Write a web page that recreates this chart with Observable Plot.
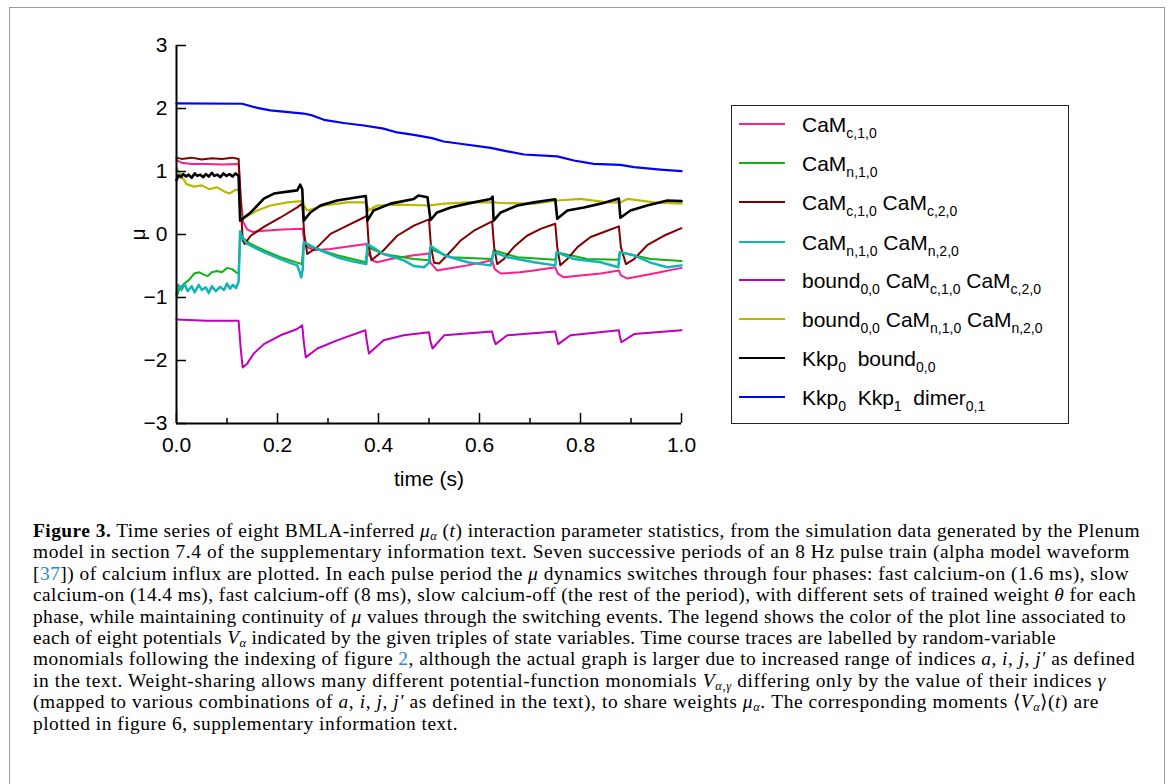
<!DOCTYPE html>
<html>
<head>
<meta charset="utf-8">
<script src="https://cdn.jsdelivr.net/npm/d3@7"></script>
<script src="https://cdn.jsdelivr.net/npm/@observablehq/plot@0.6"></script>
<style>
  html, body { margin: 0; padding: 0; background: #fff; }
  body { width: 1171px; height: 784px; overflow: hidden; position: relative; }
  #frame { position: absolute; left: 9px; top: 7px; width: 1156px; height: 800px; border: 1.5px solid #9a9a9a; box-sizing: border-box; }
  #chart { position: absolute; left: 0; top: 0; }
  #legend { position: absolute; left: 731px; top: 105px; width: 338px; height: 319px; border: 1.5px solid #222; box-sizing: border-box;
            font-family: "Liberation Sans", Arial, sans-serif; font-size: 21px; color: #000; }
  .sw { position: absolute; left: 7px; width: 46px; height: 2px; }
  .lab { position: absolute; left: 70px; white-space: nowrap; line-height: 21px; }
  .lab sub { font-size: 14px; vertical-align: -6px; line-height: 0; }
  #caption { position: absolute; left: 33px; top: 520px; font-family: "Liberation Serif", "Times New Roman", serif; font-size: 19.4px; line-height: 21.4px; color: #000; }
  #caption div { white-space: nowrap; display: block; width: max-content; }
  #caption sub { font-size: 12.5px; vertical-align: -3px; line-height: 0; }
  #caption .ref { color: #2a88c6; }
</style>
</head>
<body>
<div id="frame"></div>
<div id="chart"></div>
<div id="legend"></div>
<div id="caption"></div>
<script>
// ---------- data (t in s, mu) ----------
const camC10 = [[0,1.18],[0.01,1.14],[0.03,1.12],[0.06,1.12],[0.09,1.11],[0.123,1.12],[0.127,0.6],[0.132,0.2],[0.14,0.08],[0.15,0.04],[0.173,0.06],[0.21,0.08],[0.25,0.09],[0.253,-0.1],[0.259,-0.2],[0.272,-0.25],[0.305,-0.23],[0.34,-0.19],[0.376,-0.15],[0.379,-0.3],[0.39,-0.42],[0.397,-0.44],[0.424,-0.39],[0.47,-0.33],[0.5,-0.3],[0.503,-0.45],[0.516,-0.57],[0.545,-0.53],[0.576,-0.49],[0.625,-0.41],[0.63,-0.55],[0.642,-0.62],[0.68,-0.6],[0.708,-0.57],[0.75,-0.52],[0.755,-0.62],[0.767,-0.68],[0.8,-0.65],[0.84,-0.62],[0.876,-0.57],[0.88,-0.65],[0.893,-0.7],[0.945,-0.62],[1.0,-0.53]];
const camN10 = [[0,-1.0],[0.005,-0.88],[0.015,-0.78],[0.025,-0.72],[0.035,-0.62],[0.045,-0.6],[0.055,-0.64],[0.062,-0.66],[0.07,-0.6],[0.08,-0.58],[0.09,-0.6],[0.1,-0.53],[0.11,-0.55],[0.118,-0.6],[0.123,-0.62],[0.126,0.0],[0.13,-0.05],[0.147,-0.15],[0.173,-0.25],[0.206,-0.36],[0.248,-0.47],[0.252,-0.15],[0.279,-0.23],[0.318,-0.33],[0.375,-0.44],[0.378,-0.2],[0.41,-0.31],[0.47,-0.39],[0.5,-0.41],[0.503,-0.23],[0.543,-0.36],[0.625,-0.39],[0.628,-0.25],[0.675,-0.36],[0.75,-0.4],[0.753,-0.28],[0.813,-0.39],[0.875,-0.4],[0.878,-0.28],[0.939,-0.39],[1.0,-0.42]];
const camC10C20 = [[0,1.22],[0.01,1.2],[0.03,1.22],[0.05,1.19],[0.07,1.21],[0.09,1.2],[0.11,1.22],[0.123,1.2],[0.128,0.4],[0.131,-0.1],[0.135,-0.15],[0.147,-0.02],[0.173,0.12],[0.206,0.27],[0.239,0.43],[0.249,0.49],[0.253,0.0],[0.259,-0.31],[0.279,-0.2],[0.305,0.01],[0.338,0.14],[0.371,0.27],[0.377,0.3],[0.381,-0.2],[0.386,-0.41],[0.41,-0.25],[0.437,-0.02],[0.47,0.14],[0.5,0.24],[0.504,-0.2],[0.51,-0.45],[0.52,-0.46],[0.536,-0.33],[0.562,-0.1],[0.589,0.06],[0.625,0.21],[0.629,-0.2],[0.635,-0.47],[0.648,-0.39],[0.668,-0.2],[0.694,-0.02],[0.721,0.09],[0.75,0.17],[0.754,-0.2],[0.76,-0.49],[0.774,-0.39],[0.794,-0.2],[0.82,-0.04],[0.853,0.06],[0.876,0.13],[0.88,-0.2],[0.89,-0.47],[0.906,-0.39],[0.932,-0.17],[0.965,-0.02],[1.0,0.1]];
const camN10N20 = [[0,-0.95],[0.004,-0.8],[0.01,-0.88],[0.016,-0.78],[0.022,-0.9],[0.03,-0.82],[0.036,-0.92],[0.044,-0.8],[0.05,-0.88],[0.058,-0.84],[0.064,-0.93],[0.07,-0.82],[0.078,-0.9],[0.086,-0.83],[0.094,-0.88],[0.1,-0.78],[0.106,-0.86],[0.112,-0.8],[0.118,-0.85],[0.123,-0.75],[0.126,0.05],[0.13,-0.05],[0.14,-0.15],[0.173,-0.28],[0.206,-0.39],[0.225,-0.45],[0.239,-0.49],[0.244,-0.6],[0.247,-0.68],[0.25,-0.55],[0.252,-0.12],[0.279,-0.23],[0.318,-0.36],[0.35,-0.43],[0.376,-0.47],[0.378,-0.15],[0.41,-0.31],[0.45,-0.41],[0.47,-0.5],[0.49,-0.52],[0.5,-0.45],[0.503,-0.18],[0.53,-0.33],[0.576,-0.44],[0.622,-0.49],[0.628,-0.28],[0.655,-0.36],[0.708,-0.44],[0.75,-0.49],[0.753,-0.28],[0.787,-0.39],[0.84,-0.44],[0.875,-0.52],[0.878,-0.28],[0.906,-0.33],[0.94,-0.45],[0.972,-0.52],[1.0,-0.49]];
const boundCamC = [[0,-1.35],[0.06,-1.37],[0.123,-1.37],[0.127,-1.8],[0.131,-2.11],[0.14,-2.05],[0.153,-1.89],[0.173,-1.74],[0.206,-1.6],[0.239,-1.5],[0.249,-1.44],[0.252,-1.7],[0.256,-1.95],[0.279,-1.81],[0.318,-1.68],[0.374,-1.52],[0.377,-1.7],[0.381,-1.89],[0.41,-1.68],[0.45,-1.6],[0.5,-1.55],[0.503,-1.7],[0.507,-1.81],[0.53,-1.6],[0.625,-1.54],[0.628,-1.65],[0.632,-1.74],[0.655,-1.6],[0.75,-1.54],[0.753,-1.65],[0.756,-1.74],[0.78,-1.6],[0.876,-1.52],[0.878,-1.62],[0.881,-1.71],[0.906,-1.58],[1.0,-1.52]];
const boundCamN = [[0,1.05],[0.008,0.95],[0.02,0.8],[0.035,0.76],[0.05,0.78],[0.065,0.72],[0.08,0.75],[0.095,0.68],[0.105,0.65],[0.115,0.7],[0.123,0.72],[0.127,0.3],[0.13,0.25],[0.16,0.38],[0.186,0.46],[0.22,0.51],[0.248,0.53],[0.252,0.46],[0.259,0.38],[0.292,0.46],[0.338,0.51],[0.376,0.51],[0.38,0.38],[0.397,0.46],[0.437,0.475],[0.5,0.46],[0.53,0.49],[0.576,0.51],[0.628,0.51],[0.642,0.5],[0.708,0.49],[0.754,0.54],[0.8,0.565],[0.853,0.51],[0.879,0.51],[0.893,0.565],[0.945,0.51],[1.0,0.49]];
const kkpBound = [[0,0.86],[0.004,0.94],[0.009,0.91],[0.013,0.96],[0.019,0.92],[0.024,0.95],[0.03,0.9],[0.036,0.97],[0.041,0.93],[0.047,0.95],[0.053,0.91],[0.058,0.96],[0.064,0.92],[0.07,0.98],[0.075,0.93],[0.081,0.95],[0.087,0.91],[0.093,0.97],[0.099,0.93],[0.105,0.96],[0.111,0.92],[0.117,0.97],[0.123,0.93],[0.126,0.22],[0.147,0.35],[0.173,0.57],[0.193,0.65],[0.22,0.68],[0.239,0.7],[0.245,0.79],[0.249,0.72],[0.252,0.22],[0.265,0.35],[0.285,0.46],[0.318,0.54],[0.358,0.59],[0.375,0.61],[0.378,0.22],[0.39,0.38],[0.424,0.49],[0.47,0.565],[0.479,0.62],[0.497,0.59],[0.503,0.23],[0.516,0.35],[0.543,0.43],[0.576,0.49],[0.622,0.565],[0.626,0.6],[0.628,0.22],[0.642,0.35],[0.675,0.46],[0.708,0.51],[0.75,0.56],[0.754,0.25],[0.774,0.38],[0.807,0.43],[0.84,0.49],[0.876,0.57],[0.879,0.265],[0.899,0.38],[0.932,0.46],[0.972,0.54],[1.0,0.53]];
const kkpDimer = [[0,2.08],[0.13,2.075],[0.16,2.01],[0.186,1.97],[0.252,1.92],[0.269,1.89],[0.292,1.82],[0.331,1.77],[0.371,1.73],[0.41,1.68],[0.437,1.62],[0.47,1.58],[0.506,1.53],[0.529,1.476],[0.562,1.44],[0.622,1.376],[0.655,1.32],[0.688,1.27],[0.754,1.24],[0.787,1.175],[0.826,1.12],[0.879,1.105],[0.906,1.07],[0.958,1.03],[1.0,1.005]];

const xMajorTicks = [0, 0.2, 0.4, 0.6, 0.8, 1.0];
const xMinorTicks = [0.1, 0.3, 0.5, 0.7, 0.9];
const yTicks = [-3, -2, -1, 0, 1, 2, 3];

// legend labels: [main, sub] pairs
const legendLabels = [
  [["CaM","c,1,0"]],
  [["CaM","n,1,0"]],
  [["CaM","c,1,0"],["CaM","c,2,0"]],
  [["CaM","n,1,0"],["CaM","n,2,0"]],
  [["bound","0,0"],["CaM","c,1,0"],["CaM","c,2,0"]],
  [["bound","0,0"],["CaM","n,1,0"],["CaM","n,2,0"]],
  [["Kkp","0"],["bound","0,0"]],
  [["Kkp","0"],["Kkp","1"],["dimer","0,1"]]
];
const seriesData = [camC10, camN10, camC10C20, camN10N20, boundCamC, boundCamN, kkpBound, kkpDimer];
const seriesColors = ["#ff1d8e", "#12b012", "#820000", "#12b4b4", "#bf00bf", "#b8b800", "#000000", "#0000ff"];
const seriesWidths = [2, 2, 2, 2.5, 2, 2.2, 2.6, 2.2];

// ---------- chart ----------
const fmtY = d => (d < 0 ? "\u2212" : "") + Math.abs(d);
const chart = Plot.plot({
  width: 720,
  height: 500,
  marginLeft: 176,
  marginRight: 39,
  marginTop: 45,
  marginBottom: 77,
  style: { fontFamily: "'Liberation Sans', Arial, sans-serif", fontSize: "21px", background: "transparent", color: "#000" },
  x: { domain: [0, 1] },
  y: { domain: [-3, 3] },
  marks: [
    ...seriesData.map((s, i) => Plot.line(s, { x: d => d[0], y: d => d[1], stroke: seriesColors[i], strokeWidth: seriesWidths[i], strokeLinejoin: "round" })),
    Plot.ruleX([0], { stroke: "#000", strokeWidth: 2 }),
    Plot.ruleY([-3], { stroke: "#000", strokeWidth: 2 }),
    Plot.axisX({ ticks: xMajorTicks, tickSize: 0, tickPadding: 14, tickFormat: d3.format(".1f"), label: "time (s)", labelAnchor: "center", labelArrow: "none", labelOffset: 62 }),
    Plot.axisX({ ticks: xMajorTicks, tickSize: -10, stroke: "#000", strokeWidth: 1.5, fill: "none", label: null }),
    Plot.axisX({ ticks: xMinorTicks, tickSize: -5, stroke: "#000", strokeWidth: 1.5, fill: "none", label: null }),
    Plot.axisY({ ticks: yTicks, tickSize: 0, tickPadding: 9, tickFormat: fmtY, label: "μ", labelAnchor: "center", labelArrow: "none", labelOffset: 46 }),
    Plot.axisY({ ticks: yTicks, tickSize: -10, stroke: "#000", strokeWidth: 1.5, fill: "none", label: null })
  ]
});
document.getElementById("chart").appendChild(chart);

// ---------- legend ----------
const legend = document.getElementById("legend");
const rowCenters = [19, 58, 97, 137, 175, 214, 253, 292];
legendLabels.forEach((parts, i) => {
  const sw = document.createElement("div");
  sw.className = "sw";
  sw.style.top = (rowCenters[i] - 2) + "px";
  sw.style.background = seriesColors[i];
  legend.appendChild(sw);
  const lab = document.createElement("div");
  lab.className = "lab";
  lab.style.top = (rowCenters[i] - 11) + "px";
  lab.innerHTML = parts.map(([m, s]) => `${m}<sub>${s}</sub>`).join(i >= 6 ? "&nbsp; " : " ");
  legend.appendChild(lab);
});

// ---------- caption ----------
const captionLines = [
  '<b>Figure 3.</b> Time series of eight BMLA-inferred <i>μ</i><sub><i>α</i></sub> (<i>t</i>) interaction parameter statistics, from the simulation data generated by the Plenum',
  'model in section 7.4 of the supplementary information text. Seven successive periods of an 8 Hz pulse train (alpha model waveform',
  '[<span class="ref">37</span>]) of calcium influx are plotted. In each pulse period the <i>μ</i> dynamics switches through four phases: fast calcium-on (1.6 ms), slow',
  'calcium-on (14.4 ms), fast calcium-off (8 ms), slow calcium-off (the rest of the period), with different sets of trained weight <i>θ</i> for each',
  'phase, while maintaining continuity of <i>μ</i> values through the switching events. The legend shows the color of the plot line associated to',
  'each of eight potentials <i>V</i><sub><i>α</i></sub> indicated by the given triples of state variables. Time course traces are labelled by random-variable',
  'monomials following the indexing of figure <span class="ref">2</span>, although the actual graph is larger due to increased range of indices <i>a</i>, <i>i</i>, <i>j</i>, <i>j′</i> as defined',
  'in the text. Weight-sharing allows many different potential-function monomials <i>V</i><sub><i>α</i>,<i>γ</i></sub> differing only by the value of their indices <i>γ</i>',
  '(mapped to various combinations of <i>a</i>, <i>i</i>, <i>j</i>, <i>j′</i> as defined in the text), to share weights <i>μ</i><sub><i>α</i></sub>. The corresponding moments ⟨<i>V</i><sub><i>α</i></sub>⟩(<i>t</i>) are',
  'plotted in figure 6, supplementary information text.'
];
// approximate right edge of each caption line in the reference (page px)
const captionLineEnds = [1140, 1130, 1129, 1136, 1126, 1056, 1135, 1106, 1099, 458];
const captionLeft = 33;
const cap = document.getElementById("caption");
captionLines.forEach((l, i) => {
  const d = document.createElement("div");
  d.innerHTML = l;
  cap.appendChild(d);
  const natural = d.getBoundingClientRect().width;
  const target = captionLineEnds[i] - captionLeft;
  const n = d.textContent.length;
  d.style.letterSpacing = ((target - natural) / n).toFixed(3) + "px";
});
</script>
</body>
</html>
